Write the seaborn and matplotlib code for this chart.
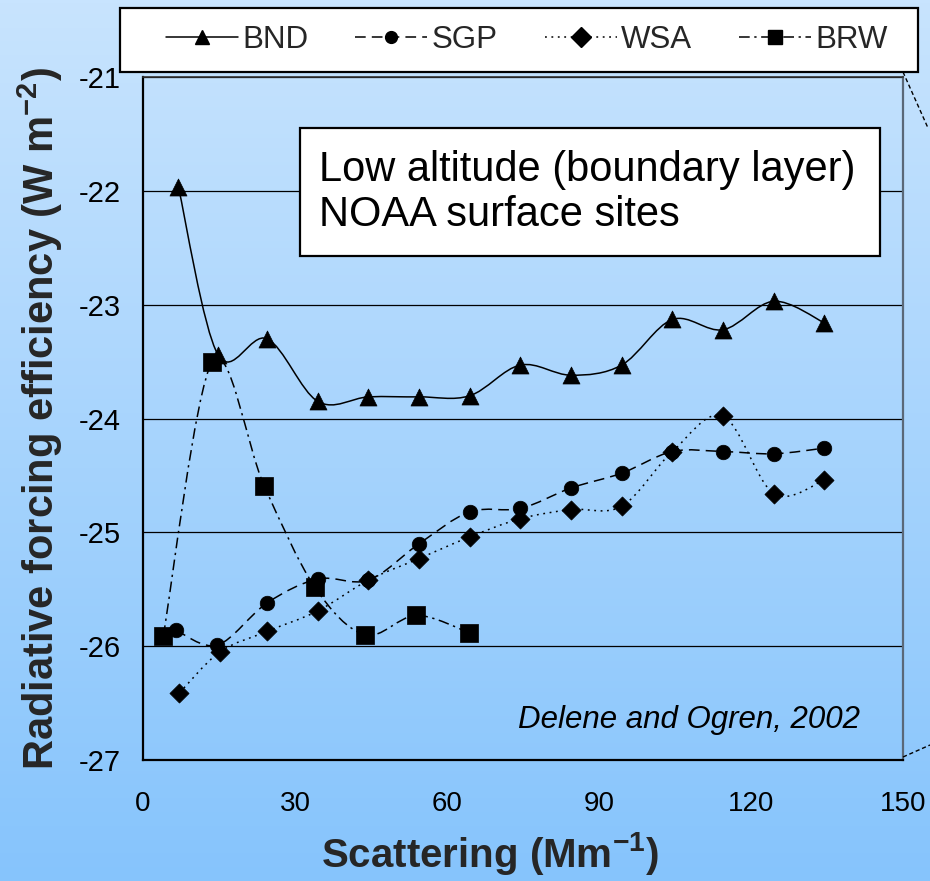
import numpy as np
import pandas as pd
import matplotlib
matplotlib.use("Agg")
import matplotlib.pyplot as plt
import seaborn as sns
from matplotlib.path import Path
from matplotlib.patches import PathPatch, Rectangle
from matplotlib.lines import Line2D
from matplotlib.ticker import MultipleLocator

# ---------------- data ----------------
bnd_x = [7, 14.8, 24.5, 34.5, 44.5, 54.5, 64.5, 74.5, 84.5, 94.5, 104.5, 114.5, 124.5, 134.5]
bnd_y = [-21.97, -23.44, -23.30, -23.85, -23.81, -23.81, -23.80, -23.53, -23.62, -23.53,
         -23.13, -23.22, -22.97, -23.16]

sgp_x = [6.5, 14.7, 24.5, 34.5, 44.5, 54.5, 64.5, 74.5, 84.5, 94.5, 104.5, 114.5, 124.5, 134.5]
sgp_y = [-25.86, -25.99, -25.62, -25.41, -25.42, -25.10, -24.82, -24.79, -24.61, -24.48,
         -24.29, -24.29, -24.31, -24.26]

wsa_x = [7.2, 15.2, 24.5, 34.5, 44.5, 54.5, 64.5, 74.5, 84.5, 94.5, 104.5, 114.5, 124.5, 134.5]
wsa_y = [-26.41, -26.05, -25.87, -25.69, -25.42, -25.23, -25.04, -24.88, -24.80, -24.77,
         -24.29, -23.98, -24.66, -24.54]

brw_x = [4.0, 13.7, 23.9, 33.9, 43.8, 53.9, 64.3]
brw_y = [-25.91, -23.50, -24.59, -25.48, -25.90, -25.73, -25.88]

series_names = ["BND", "SGP", "WSA", "BRW"]
x_ticks = [0, 30, 60, 90, 120, 150]
y_ticks = [-27, -26, -25, -24, -23, -22, -21]

x_label = "Scattering (Mm$^{\\mathbf{-1}}$)"
y_label = "Radiative forcing efficiency (W m$^{\\mathbf{-2}}$)"
box_text = "Low altitude (boundary layer)\nNOAA surface sites"
credit = "Delene and Ogren, 2002"

# ---------------- style ----------------
sns.set_theme(style="white")
plt.rcParams["font.family"] = ["Liberation Sans", "DejaVu Sans"]
plt.rcParams["mathtext.fontset"] = "custom"
plt.rcParams["mathtext.rm"] = "Liberation Sans"
plt.rcParams["mathtext.bf"] = "Liberation Sans:bold"

fig = plt.figure(figsize=(9.3, 8.81), dpi=100)

# gradient background
bg = fig.add_axes([0, 0, 1, 1], zorder=-10)
top_c = np.array([200, 228, 254]) / 255.0
bot_c = np.array([134, 196, 252]) / 255.0
t = np.linspace(0, 1, 256)[:, None]
grad = top_c[None, :] * (1 - t) + bot_c[None, :] * t
bg.imshow(grad[:, None, :], aspect="auto", extent=[0, 1, 0, 1])
bg.set_axis_off()

ax = fig.add_axes([143 / 930, 1 - 760 / 881, 760 / 930, 683 / 881])
ax.set_facecolor("none")


def smooth_path(xs, ys):
    """Excel-style smoothed line (Catmull-Rom as cubic Bezier)."""
    p = np.column_stack([xs, ys]).astype(float)
    n = len(p)
    verts = [p[0]]
    codes = [Path.MOVETO]
    for i in range(n - 1):
        p0 = p[i - 1] if i > 0 else p[i]
        p1 = p[i]
        p2 = p[i + 1]
        p3 = p[i + 2] if i + 2 < n else p[i + 1]
        c1 = p1 + (p2 - p0) / 6.0
        c2 = p2 - (p3 - p1) / 6.0
        verts += [c1, c2, p2]
        codes += [Path.CURVE4] * 3
    return Path(verts, codes)


styles = {
    "BND": dict(ls="-", marker="^", s=150),
    "SGP": dict(ls=(0, (7, 4)), marker="o", s=110),
    "WSA": dict(ls=(0, (1.2, 3)), marker="D", s=95),
    "BRW": dict(ls=(0, (7, 3, 1.5, 3)), marker="s", s=150),
}
data = {"BND": (bnd_x, bnd_y), "SGP": (sgp_x, sgp_y), "WSA": (wsa_x, wsa_y), "BRW": (brw_x, brw_y)}

for name in series_names:
    xs, ys = data[name]
    st = styles[name]
    patch = PathPatch(smooth_path(xs, ys), fill=False, edgecolor="black",
                      linewidth=1.1, linestyle=st["ls"], zorder=3)
    ax.add_patch(patch)
    df = pd.DataFrame({"x": xs, "y": ys})
    sns.scatterplot(data=df, x="x", y="y", marker=st["marker"], s=st["s"],
                    color="black", edgecolor="black", linewidth=0.5, ax=ax, zorder=4)

ax.set_xlim(0, 150)
ax.set_ylim(-27, -21)
ax.set_xticks(x_ticks)
ax.set_yticks(y_ticks)
ax.xaxis.set_minor_locator(MultipleLocator(5))
ax.yaxis.set_minor_locator(MultipleLocator(0.2))
ax.tick_params(axis="both", which="major", direction="in", length=8, width=1,
               color="black", labelcolor="black")
ax.tick_params(axis="both", which="minor", direction="in", length=5, width=1, color="black")
ax.tick_params(axis="x", which="major", pad=22, labelsize=20)
ax.tick_params(axis="y", which="major", pad=16, labelsize=21)
ax.set_yticklabels([str(v) for v in y_ticks])
ax.grid(axis="y", which="major", color="black", linewidth=0.9)
ax.grid(axis="x", visible=False)
ax.set_axisbelow(True)

for side in ["left", "bottom"]:
    ax.spines[side].set_color("black")
    ax.spines[side].set_linewidth(1.6)
ax.spines["top"].set_color("#303030")
ax.spines["top"].set_linewidth(1.2)
ax.spines["right"].set_color("#5a6878")
ax.spines["right"].set_linewidth(1.6)

ax.set_xlabel(x_label, fontsize=29, fontweight="bold")
ax.xaxis.set_label_coords(0.457, -0.103)
ax.set_ylabel(y_label, fontsize=30, fontweight="bold", labelpad=10)

# text box
ax.add_patch(Rectangle((0.2066, 0.738), 0.763, 0.187, transform=ax.transAxes,
                       facecolor="white", edgecolor="black", linewidth=1.6, zorder=5))
ax.text(0.232, 0.831, box_text, transform=ax.transAxes, fontsize=30, va="center",
        ha="left", linespacing=1.15, zorder=6, color="black")

ax.text(0.944, 0.058, credit, transform=ax.transAxes, fontsize=22.5, style="italic",
        ha="right", va="center", color="black", zorder=6)

# legend frame + legend
fig.add_artist(Rectangle((120 / 930, 1 - 72 / 881), 798 / 930, 64 / 881,
                         transform=fig.transFigure, facecolor="white",
                         edgecolor="black", linewidth=1.6, zorder=5))
handles = []
for name in series_names:
    st = styles[name]
    handles.append(Line2D([0], [0], color="black", linewidth=1.1, linestyle=st["ls"],
                          marker=st["marker"], markersize=10 if st["marker"] != "o" else 8.5,
                          markerfacecolor="black", markeredgecolor="black"))
leg = fig.legend(handles, series_names, loc="center", ncol=4,
                 bbox_to_anchor=(527 / 930, 1 - 40 / 881),
                 fontsize=22.5, frameon=False, handlelength=2.3, handletextpad=0.15,
                 columnspacing=1.5, borderpad=0, borderaxespad=0)
leg.set_zorder(6)

# callout dashed lines at right edge
fig.add_artist(Line2D([903 / 930, 928 / 930], [1 - 72 / 881, 1 - 128 / 881],
                      transform=fig.transFigure, color="black", linewidth=1.0,
                      linestyle=(0, (3, 2))))
fig.add_artist(Line2D([903 / 930, 930 / 930], [1 - 757 / 881, 1 - 745 / 881],
                      transform=fig.transFigure, color="black", linewidth=1.0,
                      linestyle=(0, (3, 2))))

fig.savefig("out.png", dpi=100)
